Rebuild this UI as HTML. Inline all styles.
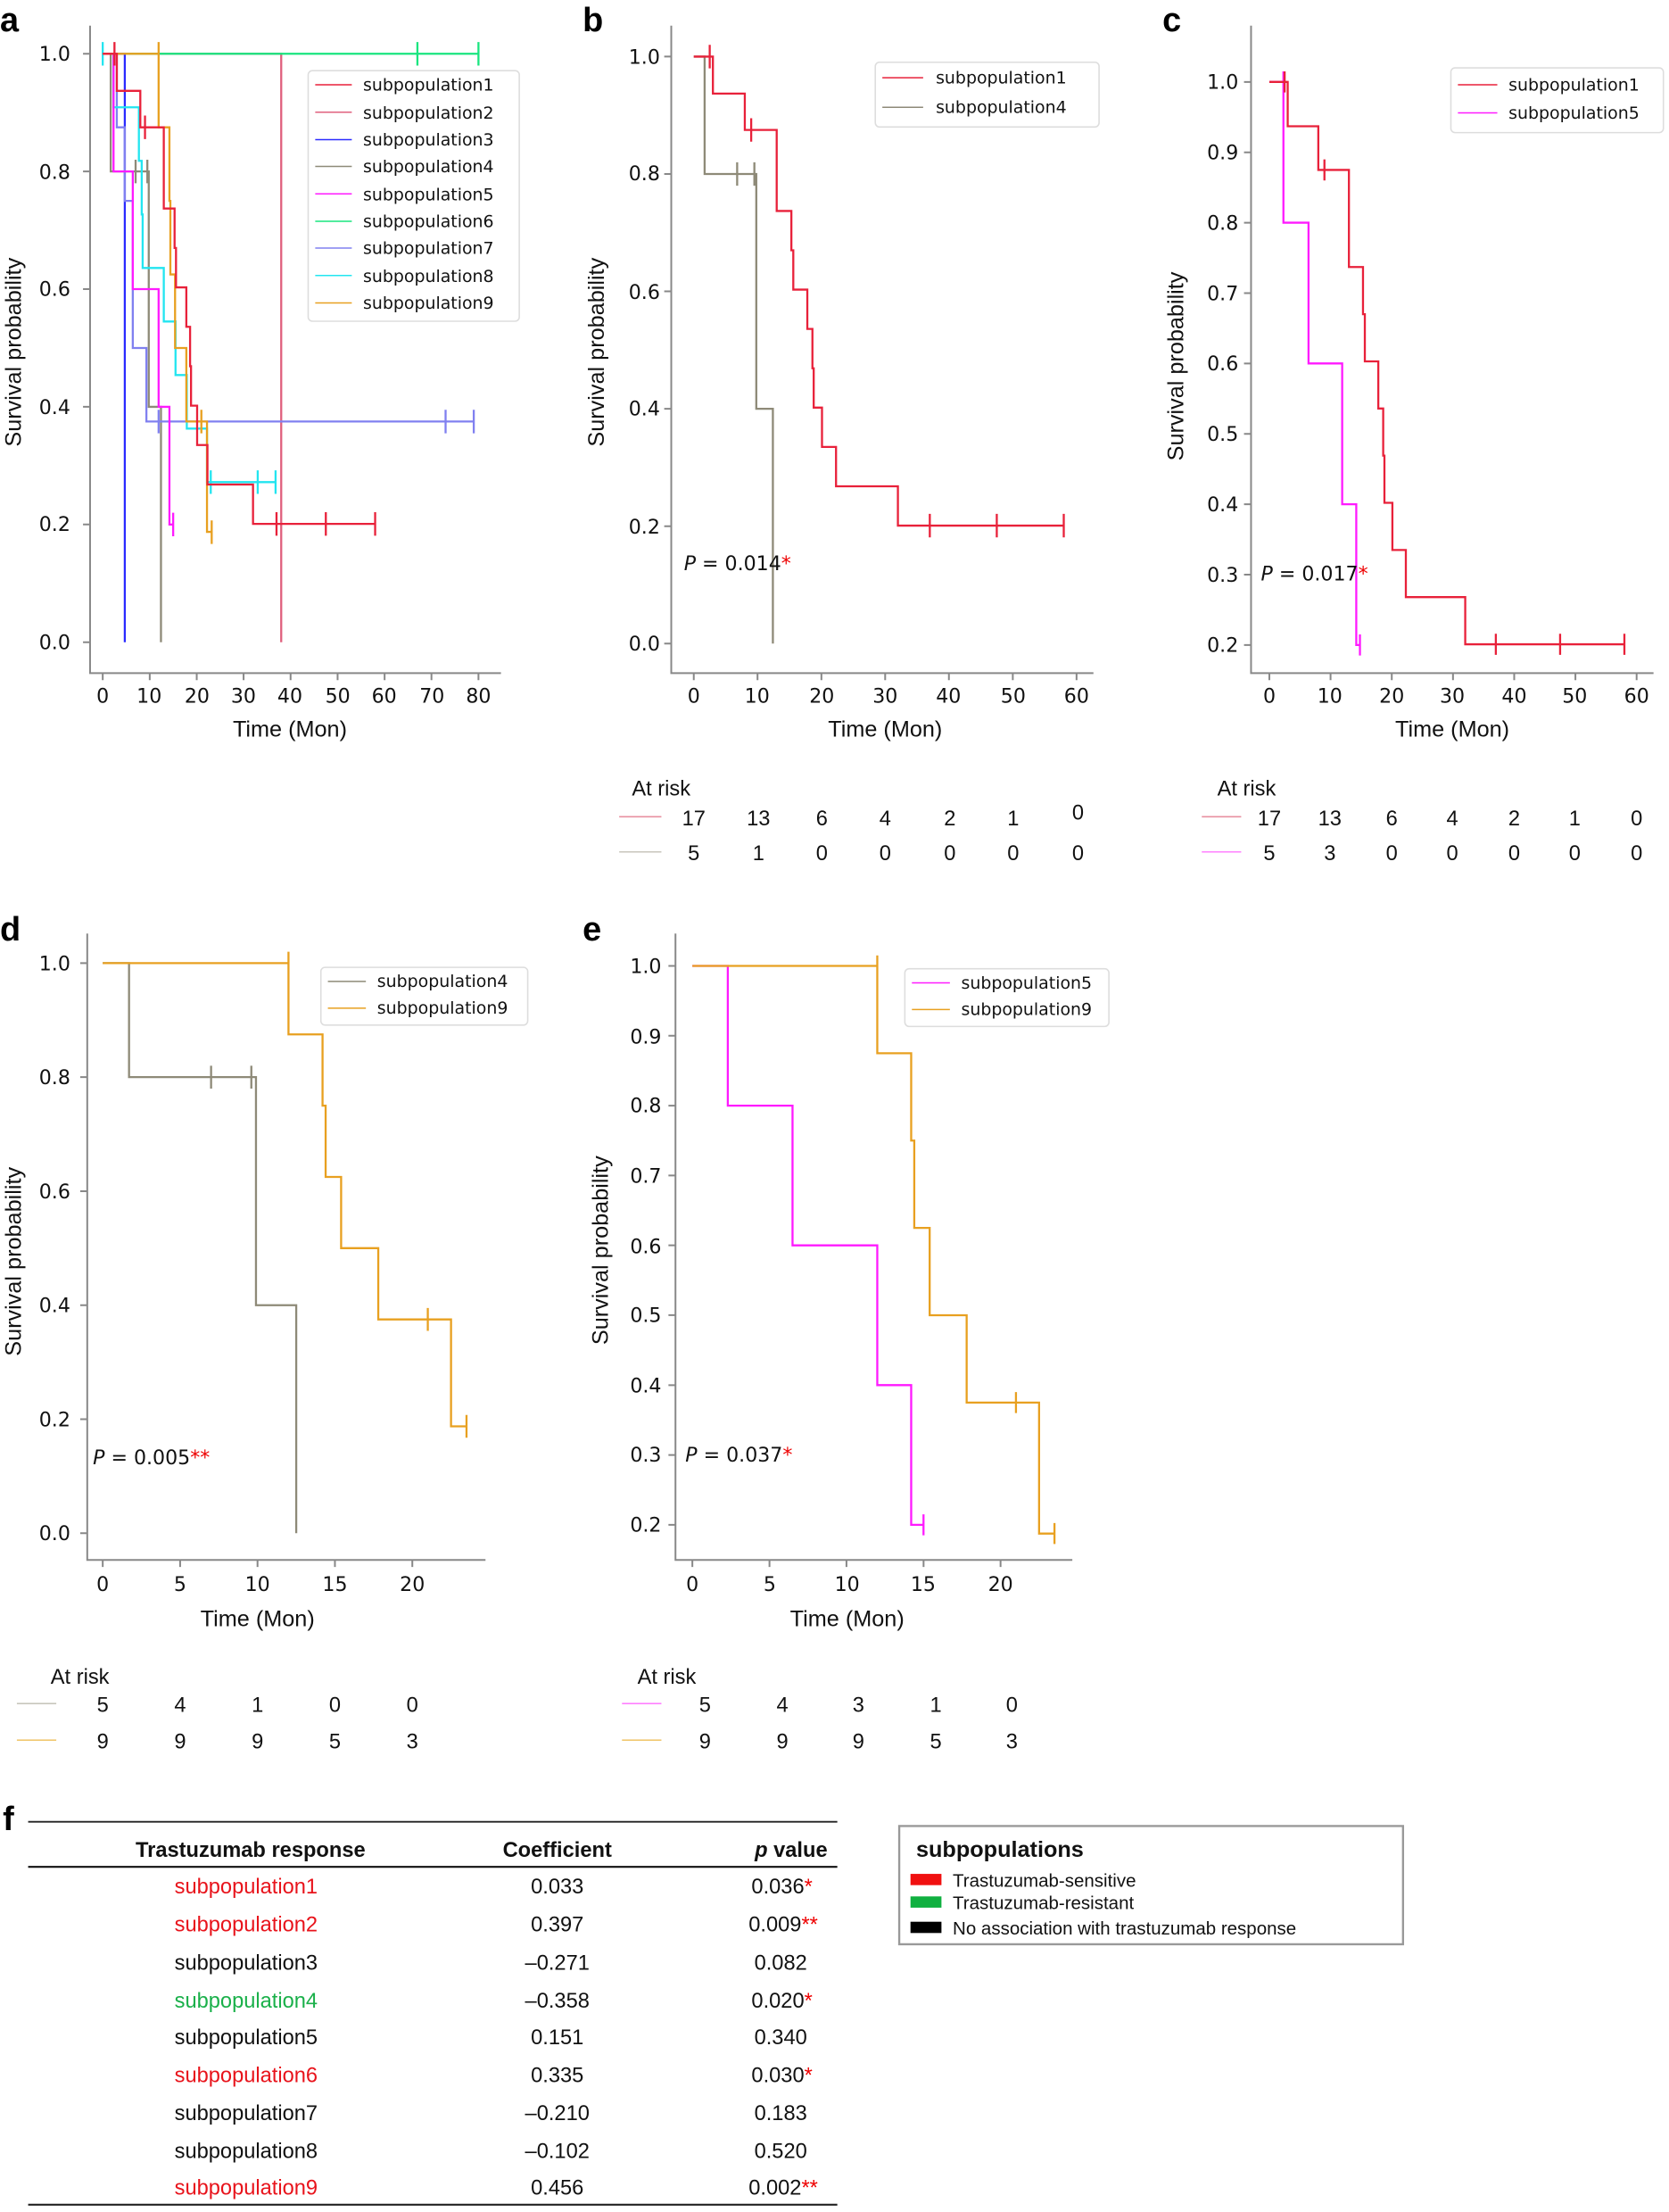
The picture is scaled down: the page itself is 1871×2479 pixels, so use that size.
<!DOCTYPE html>
<html><head><meta charset="utf-8"><style>
html,body{margin:0;padding:0;background:#fff}
svg{display:block}
.t{font-family:"DejaVu Sans","Liberation Sans",sans-serif;font-size:14px;fill:#111}
.n{font-family:"Liberation Sans Narrow","Liberation Sans",sans-serif;font-size:15px;fill:#111}
.lab{font-family:"Liberation Sans",sans-serif;font-size:16px;fill:#111}
.L{font-family:"Liberation Sans",sans-serif;font-size:24px;font-weight:bold;fill:#000}
.lg{font-family:"DejaVu Sans","Liberation Sans",sans-serif;font-size:12px;fill:#111}
path,line{vector-effect:non-scaling-stroke}
.s path{fill:none;stroke-width:2.3}
.ax{stroke:#888;stroke-width:2;fill:none}
</style></head><body>
<svg width="1871" height="2479" viewBox="0 0 1186 1571" xmlns="http://www.w3.org/2000/svg">
<!-- ===== Panel a ===== -->
<text class="L" x="0" y="22">a</text>
<path class="ax" d="M64 18 V478 H356"/>
<g class="ax"><path d="M59 38H64M59 121.6H64M59 205.2H64M59 288.8H64M59 372.4H64M59 456H64"/>
<path d="M73 478v5M106.4 478v5M139.8 478v5M173.1 478v5M206.5 478v5M239.9 478v5M273.3 478v5M306.6 478v5M340 478v5"/></g>
<g class="t" text-anchor="end"><text x="50" y="43">1.0</text><text x="50" y="127">0.8</text><text x="50" y="210">0.6</text><text x="50" y="294">0.4</text><text x="50" y="377">0.2</text><text x="50" y="461">0.0</text></g>
<g class="t" text-anchor="middle"><text x="73" y="499">0</text><text x="106" y="499">10</text><text x="140" y="499">20</text><text x="173" y="499">30</text><text x="206" y="499">40</text><text x="240" y="499">50</text><text x="273" y="499">60</text><text x="307" y="499">70</text><text x="340" y="499">80</text></g>
<text class="lab" x="206" y="523" text-anchor="middle">Time (Mon)</text>
<text class="lab" transform="translate(15,250) rotate(-90)" text-anchor="middle">Survival probability</text>
<g class="s" transform="translate(73,456) scale(3.3375,-418)">
<path stroke="#e0607e" d="M0 1H38V0"/>
<path stroke="#19e57f" d="M0 1H80M67 0.98V1.02M80 0.98V1.02"/>
<path stroke="#2b2bff" d="M0 1H4.7V0"/>
<path stroke="#8e8a78" d="M0 1H1.7V0.8H9.8V0.4H12.4V0M7 0.78V0.82M9.5 0.78V0.82"/>
<path stroke="#8080f0" d="M0 1H3V0.875H4.7V0.75H6.4V0.5H9.3V0.375H79M11.9 0.355V0.395M73 0.355V0.395M79 0.355V0.395"/>
<path stroke="#22e5f0" d="M0 1H2.3V0.909H7.7V0.818H8.3V0.727H8.5V0.636H13V0.545H15.5V0.454H17.9V0.363H22.2V0.272H36.8M0 0.98V1.02M23 0.252V0.292M33 0.252V0.292M36.8 0.252V0.292"/>
<path stroke="#ff1aff" d="M0 1H2.3V0.8H6.4V0.6H11.9V0.4H14.2V0.2H15M15 0.18V0.22"/>
<path stroke="#e8a020" d="M0 1H11.9V0.875H14.2V0.75H14.4V0.625H15.4V0.5H17.8V0.375H22.2V0.1875H23.2M11.9 0.98V1.02M21 0.355V0.395M23.2 0.167V0.207"/>
<path stroke="#e8213a" d="M0 1H3V0.937H8V0.875H13V0.737H15.3V0.67H15.6V0.603H17.8V0.536H18.6V0.469H18.8V0.402H20.1V0.335H22.3V0.268H32V0.201H58M2.5 0.98V1.02M9 0.855V0.895M37 0.181V0.221M47.5 0.181V0.221M58 0.181V0.221"/>
</g>
<rect x="219" y="50" width="150" height="178" rx="3" fill="#fff" stroke="#ddd"/>
<g stroke-width="1.5">
<line x1="224" x2="250" y1="60" y2="60" stroke="#e8213a"/><line x1="224" x2="250" y1="79.5" y2="79.5" stroke="#e0607e"/><line x1="224" x2="250" y1="99" y2="99" stroke="#2b2bff"/><line x1="224" x2="250" y1="118" y2="118" stroke="#8e8a78"/><line x1="224" x2="250" y1="137.5" y2="137.5" stroke="#ff1aff"/><line x1="224" x2="250" y1="157" y2="157" stroke="#19e57f"/><line x1="224" x2="250" y1="176" y2="176" stroke="#8080f0"/><line x1="224" x2="250" y1="195.5" y2="195.5" stroke="#22e5f0"/><line x1="224" x2="250" y1="215" y2="215" stroke="#e8a020"/></g>
<g class="lg"><text x="258" y="64">subpopulation1</text><text x="258" y="84">subpopulation2</text><text x="258" y="103">subpopulation3</text><text x="258" y="122">subpopulation4</text><text x="258" y="142">subpopulation5</text><text x="258" y="161">subpopulation6</text><text x="258" y="180">subpopulation7</text><text x="258" y="200">subpopulation8</text><text x="258" y="219">subpopulation9</text></g>

<!-- ===== Panel b ===== -->
<text class="L" x="414" y="22">b</text>
<path class="ax" d="M477 18 V478 H777"/>
<g class="ax"><path d="M472 40H477M472 123.4H477M472 206.8H477M472 290.2H477M472 373.6H477M472 457H477"/>
<path d="M493 478v5M538.3 478v5M583.7 478v5M629 478v5M674.3 478v5M719.7 478v5M765 478v5"/></g>
<g class="t" text-anchor="end"><text x="469" y="45">1.0</text><text x="469" y="128">0.8</text><text x="469" y="212">0.6</text><text x="469" y="295">0.4</text><text x="469" y="379">0.2</text><text x="469" y="462">0.0</text></g>
<g class="t" text-anchor="middle"><text x="493" y="499">0</text><text x="538" y="499">10</text><text x="584" y="499">20</text><text x="629" y="499">30</text><text x="674" y="499">40</text><text x="720" y="499">50</text><text x="765" y="499">60</text></g>
<text class="lab" x="629" y="523" text-anchor="middle">Time (Mon)</text>
<text class="lab" transform="translate(429,250) rotate(-90)" text-anchor="middle">Survival probability</text>
<g class="s" transform="translate(493,457) scale(4.533,-417)">
<path stroke="#8e8a78" d="M0 1H1.7V0.8H9.8V0.4H12.4V0M6.8 0.78V0.82M9.5 0.78V0.82"/>
<path stroke="#e8213a" d="M0 1H3V0.937H8V0.875H13V0.737H15.3V0.67H15.6V0.603H17.8V0.536H18.6V0.469H18.8V0.402H20.1V0.335H22.3V0.268H32V0.201H58M2.5 0.98V1.02M9 0.855V0.895M37 0.181V0.221M47.5 0.181V0.221M58 0.181V0.221"/>
</g>
<text class="t" x="486" y="405"><tspan font-style="italic">P</tspan> = 0.014<tspan fill="#e00">*</tspan></text>
<rect x="622" y="44" width="159" height="46" rx="3" fill="#fff" stroke="#ddd"/>
<line x1="627" x2="656" y1="55" y2="55" stroke="#e8213a" stroke-width="1.5"/><line x1="627" x2="656" y1="76" y2="76" stroke="#8e8a78" stroke-width="1.5"/>
<g class="lg"><text x="665" y="59">subpopulation1</text><text x="665" y="80">subpopulation4</text></g>
<text class="n" x="449" y="565">At risk</text>
<line x1="440" x2="470" y1="580" y2="580" stroke="#e890a0" stroke-width="1.6"/><line x1="440" x2="470" y1="605" y2="605" stroke="#c8c6bc" stroke-width="1.6"/>
<g class="n" text-anchor="middle"><text x="493" y="586">17</text><text x="539" y="586">13</text><text x="584" y="586">6</text><text x="629" y="586">4</text><text x="675" y="586">2</text><text x="720" y="586">1</text><text x="766" y="582">0</text>
<text x="493" y="611">5</text><text x="539" y="611">1</text><text x="584" y="611">0</text><text x="629" y="611">0</text><text x="675" y="611">0</text><text x="720" y="611">0</text><text x="766" y="611">0</text></g>

<!-- ===== Panel c ===== -->
<text class="L" x="826" y="22">c</text>
<path class="ax" d="M889 18 V478 H1175"/>
<g class="ax"><path d="M884 58H889M884 108H889M884 158H889M884 208H889M884 258H889M884 308H889M884 358H889M884 408H889M884 458H889"/>
<path d="M902 478v5M945.5 478v5M989 478v5M1032.5 478v5M1076 478v5M1119.5 478v5M1163 478v5"/></g>
<g class="t" text-anchor="end"><text x="880" y="63">1.0</text><text x="880" y="113">0.9</text><text x="880" y="163">0.8</text><text x="880" y="213">0.7</text><text x="880" y="263">0.6</text><text x="880" y="313">0.5</text><text x="880" y="363">0.4</text><text x="880" y="413">0.3</text><text x="880" y="463">0.2</text></g>
<g class="t" text-anchor="middle"><text x="902" y="499">0</text><text x="945" y="499">10</text><text x="989" y="499">20</text><text x="1032" y="499">30</text><text x="1076" y="499">40</text><text x="1119" y="499">50</text><text x="1163" y="499">60</text></g>
<text class="lab" x="1032" y="523" text-anchor="middle">Time (Mon)</text>
<text class="lab" transform="translate(841,260) rotate(-90)" text-anchor="middle">Survival probability</text>
<g class="s" transform="translate(902,558) scale(4.35,-500)">
<path stroke="#ff1aff" d="M0 1H2.3V0.8H6.4V0.6H11.9V0.4H14.2V0.2H14.8M2.3 0.985V1.015M14.8 0.185V0.215"/>
<path stroke="#e8213a" d="M0 1H3V0.937H8V0.875H13V0.737H15.3V0.67H15.6V0.603H17.8V0.536H18.6V0.469H18.8V0.402H20.1V0.335H22.3V0.268H32V0.201H58M2.5 0.985V1.015M9 0.86V0.89M37 0.186V0.216M47.5 0.186V0.216M58 0.186V0.216"/>
</g>
<text class="t" x="896" y="412"><tspan font-style="italic">P</tspan> = 0.017<tspan fill="#e00">*</tspan></text>
<rect x="1031" y="48" width="151" height="46" rx="3" fill="#fff" stroke="#ddd"/>
<line x1="1036" x2="1064" y1="60" y2="60" stroke="#e8213a" stroke-width="1.5"/><line x1="1036" x2="1064" y1="80" y2="80" stroke="#ff1aff" stroke-width="1.5"/>
<g class="lg"><text x="1072" y="64">subpopulation1</text><text x="1072" y="84">subpopulation5</text></g>
<text class="n" x="865" y="565">At risk</text>
<line x1="854" x2="882" y1="580" y2="580" stroke="#e890a0" stroke-width="1.6"/><line x1="854" x2="882" y1="605" y2="605" stroke="#ff80ff" stroke-width="1.6"/>
<g class="n" text-anchor="middle"><text x="902" y="586">17</text><text x="945" y="586">13</text><text x="989" y="586">6</text><text x="1032" y="586">4</text><text x="1076" y="586">2</text><text x="1119" y="586">1</text><text x="1163" y="586">0</text>
<text x="902" y="611">5</text><text x="945" y="611">3</text><text x="989" y="611">0</text><text x="1032" y="611">0</text><text x="1076" y="611">0</text><text x="1119" y="611">0</text><text x="1163" y="611">0</text></g>

<!-- ===== Panel d ===== -->
<text class="L" x="0" y="668">d</text>
<path class="ax" d="M62 663 V1108 H345"/>
<g class="ax"><path d="M57 684H62M57 765H62M57 846H62M57 927H62M57 1008H62M57 1089H62"/>
<path d="M73 1108v5M128 1108v5M183 1108v5M238 1108v5M293 1108v5"/></g>
<g class="t" text-anchor="end"><text x="50" y="689">1.0</text><text x="50" y="770">0.8</text><text x="50" y="851">0.6</text><text x="50" y="932">0.4</text><text x="50" y="1013">0.2</text><text x="50" y="1094">0.0</text></g>
<g class="t" text-anchor="middle"><text x="73" y="1130">0</text><text x="128" y="1130">5</text><text x="183" y="1130">10</text><text x="238" y="1130">15</text><text x="293" y="1130">20</text></g>
<text class="lab" x="183" y="1155" text-anchor="middle">Time (Mon)</text>
<text class="lab" transform="translate(15,896) rotate(-90)" text-anchor="middle">Survival probability</text>
<g class="s" transform="translate(73,1089) scale(11,-405)">
<path stroke="#8e8a78" d="M0 1H1.7V0.8H9.9V0.4H12.5V0M7 0.78V0.82M9.6 0.78V0.82"/>
<path stroke="#e8a020" d="M0 1H12V0.875H14.2V0.75H14.4V0.625H15.4V0.5H17.8V0.375H22.5V0.1875H23.5M12 0.98V1.02M21 0.355V0.395M23.5 0.1675V0.2075"/>
</g>
<text class="t" x="66" y="1040"><tspan font-style="italic">P</tspan> = 0.005<tspan fill="#e00">**</tspan></text>
<rect x="228" y="687" width="147" height="41" rx="3" fill="#fff" stroke="#ddd"/>
<line x1="233" x2="260" y1="697" y2="697" stroke="#8e8a78" stroke-width="1.5"/><line x1="233" x2="260" y1="716" y2="716" stroke="#e8a020" stroke-width="1.5"/>
<g class="lg"><text x="268" y="701">subpopulation4</text><text x="268" y="720">subpopulation9</text></g>
<text class="n" x="36" y="1196">At risk</text>
<line x1="12" x2="40" y1="1210" y2="1210" stroke="#c8c6bc" stroke-width="1.6"/><line x1="12" x2="40" y1="1236" y2="1236" stroke="#f0c870" stroke-width="1.6"/>
<g class="n" text-anchor="middle"><text x="73" y="1216">5</text><text x="128" y="1216">4</text><text x="183" y="1216">1</text><text x="238" y="1216">0</text><text x="293" y="1216">0</text>
<text x="73" y="1242">9</text><text x="128" y="1242">9</text><text x="183" y="1242">9</text><text x="238" y="1242">5</text><text x="293" y="1242">3</text></g>

<!-- ===== Panel e ===== -->
<text class="L" x="414" y="668">e</text>
<path class="ax" d="M480 663 V1108 H762"/>
<g class="ax"><path d="M475 686H480M475 735.6H480M475 785.3H480M475 834.9H480M475 884.5H480M475 934.1H480M475 983.8H480M475 1033.4H480M475 1083H480"/>
<path d="M492 1108v5M546.8 1108v5M601.5 1108v5M656.3 1108v5M711 1108v5"/></g>
<g class="t" text-anchor="end"><text x="470" y="691">1.0</text><text x="470" y="741">0.9</text><text x="470" y="790">0.8</text><text x="470" y="840">0.7</text><text x="470" y="890">0.6</text><text x="470" y="939">0.5</text><text x="470" y="989">0.4</text><text x="470" y="1038">0.3</text><text x="470" y="1088">0.2</text></g>
<g class="t" text-anchor="middle"><text x="492" y="1130">0</text><text x="547" y="1130">5</text><text x="602" y="1130">10</text><text x="656" y="1130">15</text><text x="711" y="1130">20</text></g>
<text class="lab" x="602" y="1155" text-anchor="middle">Time (Mon)</text>
<text class="lab" transform="translate(432,888) rotate(-90)" text-anchor="middle">Survival probability</text>
<g class="s" transform="translate(492,1182.3) scale(10.95,-496.3)">
<path stroke="#ff1aff" d="M0 1H2.3V0.8H6.5V0.6H12V0.4H14.2V0.2H15M15 0.185V0.215"/>
<path stroke="#e8a020" d="M0 1H12V0.875H14.2V0.75H14.4V0.625H15.4V0.5H17.8V0.375H22.5V0.1875H23.5M12 0.985V1.015M21 0.36V0.39M23.5 0.1725V0.2025"/>
</g>
<text class="t" x="487" y="1038"><tspan font-style="italic">P</tspan> = 0.037<tspan fill="#e00">*</tspan></text>
<rect x="643" y="688" width="145" height="41" rx="3" fill="#fff" stroke="#ddd"/>
<line x1="648" x2="675" y1="698" y2="698" stroke="#ff1aff" stroke-width="1.5"/><line x1="648" x2="675" y1="717" y2="717" stroke="#e8a020" stroke-width="1.5"/>
<g class="lg"><text x="683" y="702">subpopulation5</text><text x="683" y="721">subpopulation9</text></g>
<text class="n" x="453" y="1196">At risk</text>
<line x1="442" x2="470" y1="1210" y2="1210" stroke="#ff80ff" stroke-width="1.6"/><line x1="442" x2="470" y1="1236" y2="1236" stroke="#f0c870" stroke-width="1.6"/>
<g class="n" text-anchor="middle"><text x="501" y="1216">5</text><text x="556" y="1216">4</text><text x="610" y="1216">3</text><text x="665" y="1216">1</text><text x="719" y="1216">0</text>
<text x="501" y="1242">9</text><text x="556" y="1242">9</text><text x="610" y="1242">9</text><text x="665" y="1242">5</text><text x="719" y="1242">3</text></g>

<!-- ===== Panel f ===== -->
<text class="L" x="2" y="1300" style="font-family:'Liberation Sans Narrow','Liberation Sans',sans-serif">f</text>
<line x1="20" x2="595" y1="1294" y2="1294" stroke="#222" stroke-width="1.8"/>
<line x1="20" x2="595" y1="1326" y2="1326" stroke="#111" stroke-width="2.2"/>
<line x1="20" x2="595" y1="1566" y2="1566" stroke="#222" stroke-width="2.2"/>
<g class="n" style="font-weight:bold"><text x="178" y="1319" text-anchor="middle">Trastuzumab response</text><text x="396" y="1319" text-anchor="middle">Coefficient</text><text x="588" y="1319" text-anchor="end"><tspan font-style="italic">p</tspan> value</text></g>
<g class="n">
<text x="124" y="1345" fill="#e8131b">subpopulation1</text>
<text x="124" y="1372" fill="#e8131b">subpopulation2</text>
<text x="124" y="1399">subpopulation3</text>
<text x="124" y="1426" fill="#1ab04a">subpopulation4</text>
<text x="124" y="1452">subpopulation5</text>
<text x="124" y="1479" fill="#e8131b">subpopulation6</text>
<text x="124" y="1506">subpopulation7</text>
<text x="124" y="1533">subpopulation8</text>
<text x="124" y="1559" fill="#e8131b">subpopulation9</text>
</g>
<g class="n" text-anchor="middle"><text x="396" y="1345">0.033</text><text x="396" y="1372">0.397</text><text x="396" y="1399">–0.271</text><text x="396" y="1426">–0.358</text><text x="396" y="1452">0.151</text><text x="396" y="1479">0.335</text><text x="396" y="1506">–0.210</text><text x="396" y="1533">–0.102</text><text x="396" y="1559">0.456</text></g>
<g class="n"><text x="534" y="1345">0.036<tspan fill="#e00">*</tspan></text><text x="532" y="1372">0.009<tspan fill="#e00">**</tspan></text><text x="536" y="1399">0.082</text><text x="534" y="1426">0.020<tspan fill="#e00">*</tspan></text><text x="536" y="1452">0.340</text><text x="534" y="1479">0.030<tspan fill="#e00">*</tspan></text><text x="536" y="1506">0.183</text><text x="536" y="1533">0.520</text><text x="532" y="1559">0.002<tspan fill="#e00">**</tspan></text></g>
<rect x="639" y="1297" width="358" height="84" fill="#fff" stroke="#999" stroke-width="1.5"/>
<text class="n" x="651" y="1319" style="font-weight:bold;font-size:16px">subpopulations</text>
<rect x="647" y="1331" width="22" height="8" fill="#f01010"/><rect x="647" y="1347" width="22" height="8" fill="#10b040"/><rect x="647" y="1365" width="22" height="8" fill="#000"/>
<g class="n" style="font-size:13px"><text x="677" y="1340">Trastuzumab-sensitive</text><text x="677" y="1356">Trastuzumab-resistant</text><text x="677" y="1374">No association with trastuzumab response</text></g>
</svg>
</body></html>
